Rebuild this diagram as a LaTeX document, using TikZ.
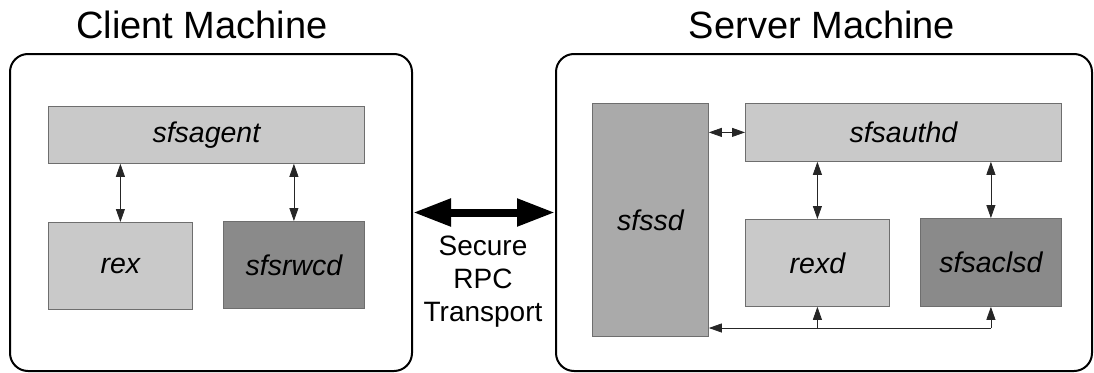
\documentclass[tikz,border=0pt]{standalone}
\usepackage{fontspec}
\setmainfont{Liberation Sans}
\usetikzlibrary{arrows.meta}

\definecolor{paleproc}{RGB}{201,201,201}
\definecolor{midproc}{RGB}{170,170,170}
\definecolor{darkproc}{RGB}{138,138,138}
\definecolor{procedge}{RGB}{110,110,110}

\begin{document}
\begin{tikzpicture}[x=1pt, y=-1pt,
  machine/.style={draw=black, line width=2pt, rounded corners=18pt,
    inner sep=0pt, anchor=north west},
  title/.style={font=\fontsize{38}{42}\selectfont, anchor=base, inner sep=0pt},
  proc/.style={draw=procedge, line width=0.8pt, inner sep=0pt, anchor=north west,
    font=\fontsize{28.5}{32}\selectfont\itshape},
  pale/.style={proc, fill=paleproc},
  mid/.style={proc, fill=midproc},
  dark/.style={proc, fill=darkproc},
  link/.style={draw=black!85, line width=0.8pt},
  tip/.tip={Triangle[length=13pt, width=9pt]},
  both/.style={link, tip-tip},
  single/.style={link, -tip},
  transport/.style={line width=8pt,
    {Triangle[length=38pt, width=26pt]}-{Triangle[length=38pt, width=26pt]}},
  caption/.style={font=\fontsize{28}{33}\selectfont, align=center, inner sep=0pt}
]
\useasboundingbox (0,0) rectangle (1094,372);

% machine frames and their titles
\node[machine, minimum width=402pt, minimum height=317pt] (client) at (9,53) {};
\node[machine, minimum width=536pt, minimum height=317pt] (server) at (555,53) {};
\node[title] (clienttitle) at (202,38) {Client Machine};
\node[title] (servertitle) at (822,38) {Server Machine};

% client-side processes
\node[pale, minimum width=316pt, minimum height=57pt] (sfsagent) at (48,106) {sfsagent};
\node[pale, minimum width=144pt, minimum height=87pt] (rex) at (48,222) {rex};
\node[dark, minimum width=141pt, minimum height=87pt] (sfsrwcd) at (223,221) {sfsrwcd};

% server-side processes
\node[mid, minimum width=116pt, minimum height=233pt] (sfssd) at (592,103) {sfssd};
\node[pale, minimum width=316pt, minimum height=58pt] (sfsauthd) at (745,103) {sfsauthd};
\node[pale, minimum width=144pt, minimum height=87pt] (rexd) at (745,219) {rexd};
\node[dark, minimum width=141pt, minimum height=88pt] (sfsaclsd) at (920,218) {sfsaclsd};

% client connections
\draw[both] (sfsagent.south -| rex.north) -- (rex.north);
\draw[both] (sfsagent.south -| sfsrwcd.north) -- (sfsrwcd.north);

% server connections
\draw[both] (sfssd.east |- sfsauthd.west) -- (sfsauthd.west);
\draw[both] (sfsauthd.south -| rexd.north) -- (rexd.north);
\draw[both] (sfsauthd.south -| sfsaclsd.north) -- (sfsaclsd.north);

% return path back to sfssd
\coordinate (bus) at (0,328);
\draw[single] (rexd.south |- bus) -- (rexd.south);
\draw[single] (sfsaclsd.south |- bus) -- (sfsaclsd.south);
\draw[single] (sfsaclsd.south |- bus) -- (sfssd.east |- bus);

% secure channel between the machines
\draw[transport] (client.east) -- (server.west);
\node[caption, anchor=base] (channel) at (483,321) {Secure\\RPC\\Transport};
\end{tikzpicture}
\end{document}
